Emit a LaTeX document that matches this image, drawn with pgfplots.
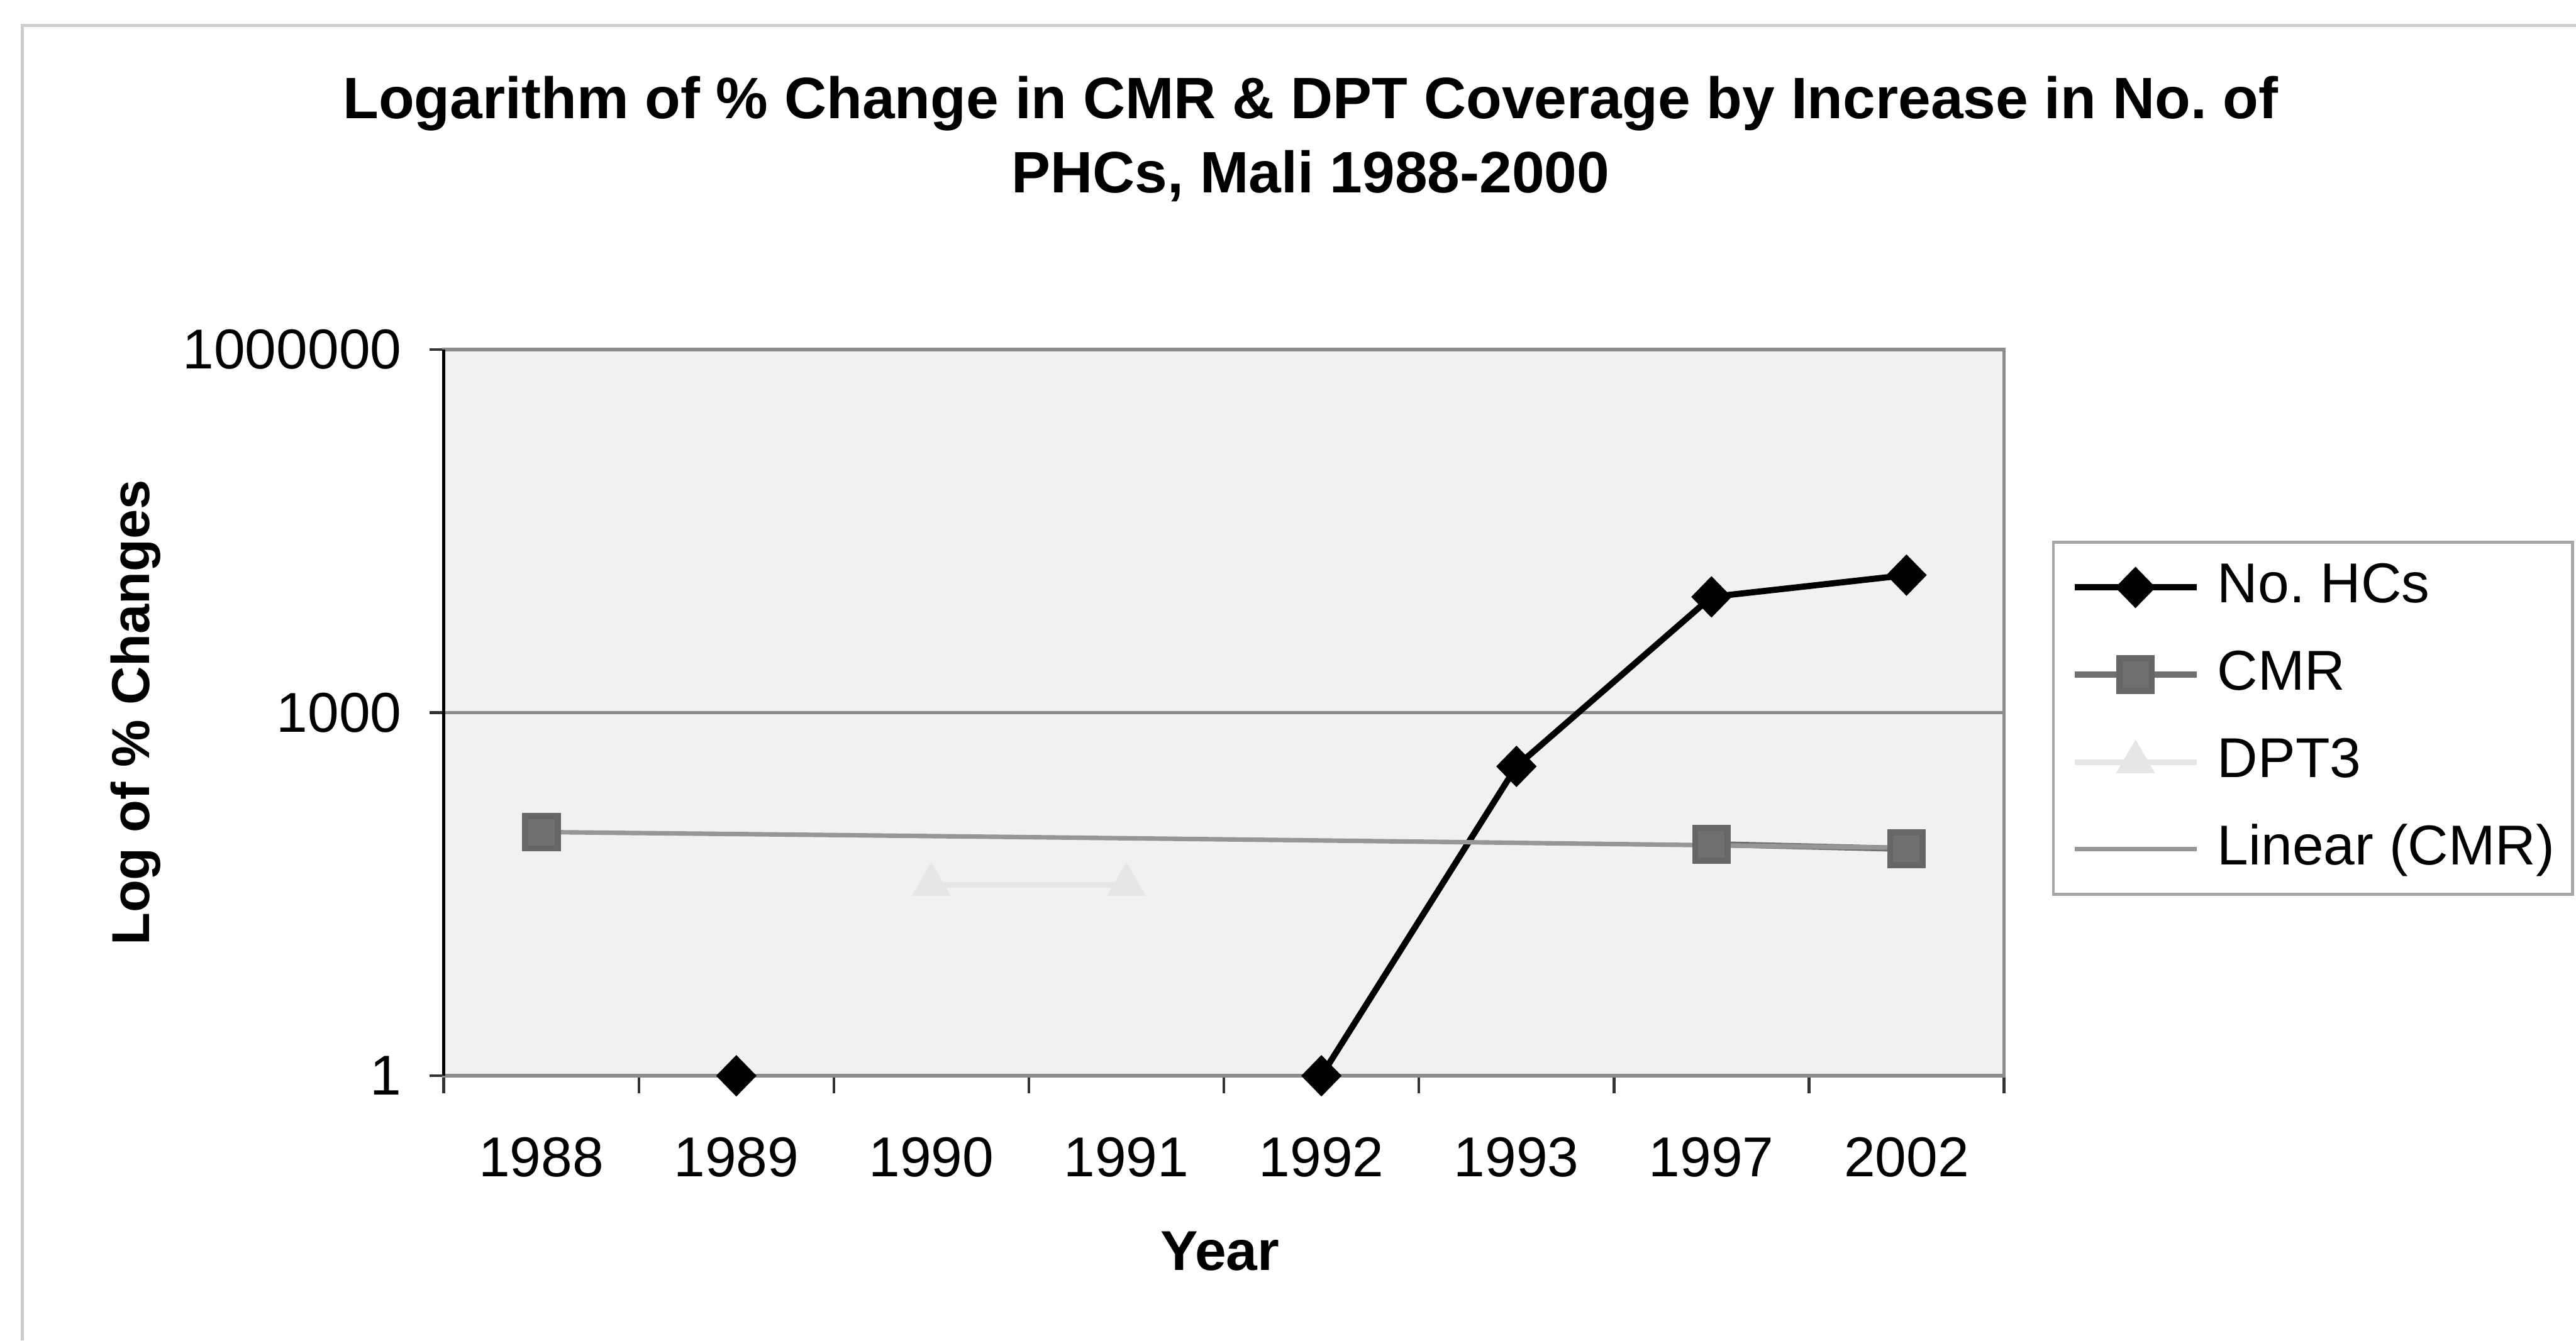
\documentclass[border=0pt]{standalone}
\usepackage{pgfplots}
\pgfplotsset{compat=1.18}
\usepackage{fontspec}
\setmainfont{Liberation Sans}
\frenchspacing
\definecolor{plotbg}{RGB}{241,241,241}
\definecolor{gridc}{RGB}{140,140,140}
\definecolor{cmrc}{RGB}{112,112,112}
\definecolor{trendc}{RGB}{150,150,150}
\definecolor{dptc}{RGB}{230,230,230}
\begin{document}
\frenchspacing
\begin{tikzpicture}
\useasboundingbox (-2.7755,-1.6555) rectangle (13.335,6.7305);
\draw[gray!40, line width=0.6pt] (-2.6355,-1.6555) -- (-2.6355,6.57) -- (13.335,6.57);
\node[font=\fontsize{10.4}{12}\selectfont\bfseries, anchor=base, inner sep=0pt] at (5.4215,5.99) {Logarithm of \% Change in CMR \& DPT Coverage by Increase in No. of};
\node[font=\fontsize{10.4}{12}\selectfont\bfseries, anchor=base, inner sep=0pt] at (5.4215,5.5265) {PHCs, Mali 1988-2000};
\begin{axis}[
  at={(0,0)}, anchor=south west, scale only axis,
  width=9.758cm, height=4.543cm,
  xmin=-0.5, xmax=7.5,
  ymode=log, ymin=1, ymax=1000000,
  xtick={0,1,2,3,4,5,6,7},
  xticklabels={1988,1989,1990,1991,1992,1993,1997,2002},
  major x tick style={draw=none},
  minor xtick={-0.5,0.5,1.5,2.5,3.5,4.5,5.5,6.5,7.5},
  ytick={1,1000,1000000},
  yticklabels={1,1000,1000000},
  yminorticks=false,
  tick align=outside, xtick pos=bottom, ytick pos=left,
  major tick length=0.09cm, minor tick length=0.11cm,
  ymajorgrids, major grid style={gridc, line width=0.6pt},
  axis line style={gridc, line width=0.6pt},
  tick style={black!80, line width=0.5pt},
  axis background/.style={fill=plotbg},
  /pgf/number format/assume math mode=true,
  ticklabel style={font=\fontsize{10}{12}\selectfont},
  xticklabel style={yshift=-0.17cm},
  yticklabel style={xshift=-0.05cm},
  xlabel={Year},
  xlabel style={font=\fontsize{10}{12}\selectfont\bfseries, at={(axis description cs:0.4975,-0.2681)}, anchor=base},
  ylabel={Log of \% Changes},
  ylabel style={font=\fontsize{9.5}{12}\selectfont\bfseries, at={(axis description cs:-0.1976,0.5)}, anchor=center},
  unbounded coords=jump,
  clip=false,
  legend cell align=left,
  legend style={at={(axis description cs:1.0308,0.7365)}, anchor=north west,
    draw=gray!70, fill=white, line width=0.5pt,
    inner xsep=0.112cm, inner ysep=0.107cm, row sep=0.196cm, column sep=0.112cm,
    font=\fontsize{10}{12}\selectfont,
    nodes={inner sep=0pt, text height=0.27cm, text depth=0.08cm}},
  legend image code/.code={\draw[mark repeat=2,mark phase=2,#1] plot coordinates {(0cm,0cm) (0.3815cm,0cm) (0.763cm,0cm)};},
]
\draw[black, line width=0.6pt] (rel axis cs:0,0) -- (rel axis cs:0,1);
\addplot[black, line width=1.1pt, mark=diamond*, mark size=2.9pt, mark options={xscale=1.3, solid, fill=black}]
  coordinates {(0,nan) (1,1) (2,nan) (3,nan) (4,1) (5,360) (6,9060) (7,13700)};
\addlegendentry{No. HCs}
\addplot[cmrc, line width=1.1pt, mark=square*, mark size=2.9pt, mark options={solid, fill=cmrc, draw=black!60}]
  coordinates {(0,103) (1,nan) (2,nan) (3,nan) (4,nan) (5,nan) (6,82) (7,75)};
\addlegendentry{CMR}
\addplot[dptc, line width=1pt, mark=triangle*, mark size=3pt, mark options={solid, fill=dptc}]
  coordinates {(2,38) (3,38)};
\addlegendentry{DPT3}
\addplot[trendc, line width=0.8pt]
  coordinates {(0,103.25) (1,99.42) (2,95.6) (3,91.77) (4,87.95) (5,84.12) (6,80.3) (7,76.47)};
\addlegendentry{Linear (CMR)}
\end{axis}
\end{tikzpicture}
\end{document}
